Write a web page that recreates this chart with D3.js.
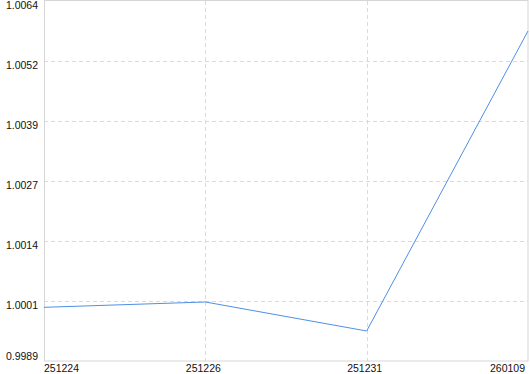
<!DOCTYPE html>
<html>
<head>
<meta charset="utf-8">
<script src="https://cdn.jsdelivr.net/npm/d3@7"></script>
<style>
  html, body { margin: 0; padding: 0; background: #fff; }
  text { font-family: "Liberation Sans", Arial, sans-serif; font-size: 10.5px; fill: #111; }
</style>
</head>
<body>
<div id="chart"></div>
<script>
// data
var dates = ["251224", "251226", "251231", "260109"];
var values = [0.999991, 1.000103, 0.999492, 1.005812];
var yMin = 0.99886, yMax = 1.006444;
var yTickCount = 6; // intervals

var width = 530, height = 374;
var margin = { top: 1, right: 2, bottom: 13, left: 44 };

var svg = d3.select("#chart").append("svg")
  .attr("width", width)
  .attr("height", height);

var x = d3.scalePoint()
  .domain(dates)
  .range([margin.left, width - margin.right]);

var y = d3.scaleLinear()
  .domain([yMin, yMax])
  .range([height - margin.bottom, margin.top]);

var yTicks = d3.range(yTickCount + 1).map(function(i) {
  return yMin + (yMax - yMin) * i / yTickCount;
});
var fmt = d3.format(".4f");

// grid
var grid = svg.append("g").attr("class", "grid");
grid.selectAll(".hg")
  .data(yTicks.slice(1, -1))
  .enter().append("line")
  .attr("x1", margin.left).attr("x2", width - margin.right)
  .attr("y1", function(d) { return Math.round(y(d)) + 0.5; })
  .attr("y2", function(d) { return Math.round(y(d)) + 0.5; })
  .attr("stroke", "#dadada")
  .attr("stroke-dasharray", "4,3");
grid.selectAll(".vg")
  .data(dates.slice(1, -1))
  .enter().append("line")
  .attr("y1", margin.top).attr("y2", height - margin.bottom)
  .attr("x1", function(d) { return Math.round(x(d)) + 0.5; })
  .attr("x2", function(d) { return Math.round(x(d)) + 0.5; })
  .attr("stroke", "#dadada")
  .attr("stroke-dasharray", "4,3");

// frame
svg.append("rect")
  .attr("x", margin.left + 0.5)
  .attr("y", margin.top - 0.5)
  .attr("width", width - margin.right - margin.left - 0.5)
  .attr("height", height - margin.bottom - margin.top + 0.5)
  .attr("fill", "none")
  .attr("stroke", "#d6d6d6");

// y axis labels (hang below their line, clamped to the plot)
svg.append("g").selectAll("text")
  .data(yTicks)
  .enter().append("text")
  .attr("x", margin.left - 6)
  .attr("y", function(d, i) {
    if (i === 0) return y(d) - 1;
    return y(d) + 8;
  })
  .attr("text-anchor", "end")
  .text(function(d) { return fmt(d); });

// x axis labels
svg.append("g").selectAll("text")
  .data(dates)
  .enter().append("text")
  .attr("x", function(d, i) {
    if (i === 0) return x(d);
    if (i === dates.length - 1) return x(d) - 3;
    return x(d) - 2;
  })
  .attr("y", height - 2)
  .attr("text-anchor", function(d, i) {
    if (i === 0) return "start";
    if (i === dates.length - 1) return "end";
    return "middle";
  })
  .text(function(d) { return d; });

// line
var line = d3.line()
  .x(function(d, i) { return x(dates[i]); })
  .y(function(d) { return y(d); });

svg.append("path")
  .datum(values)
  .attr("d", line)
  .attr("fill", "none")
  .attr("stroke", "#4f8fe6")
  .attr("stroke-width", 1);
</script>
</body>
</html>
